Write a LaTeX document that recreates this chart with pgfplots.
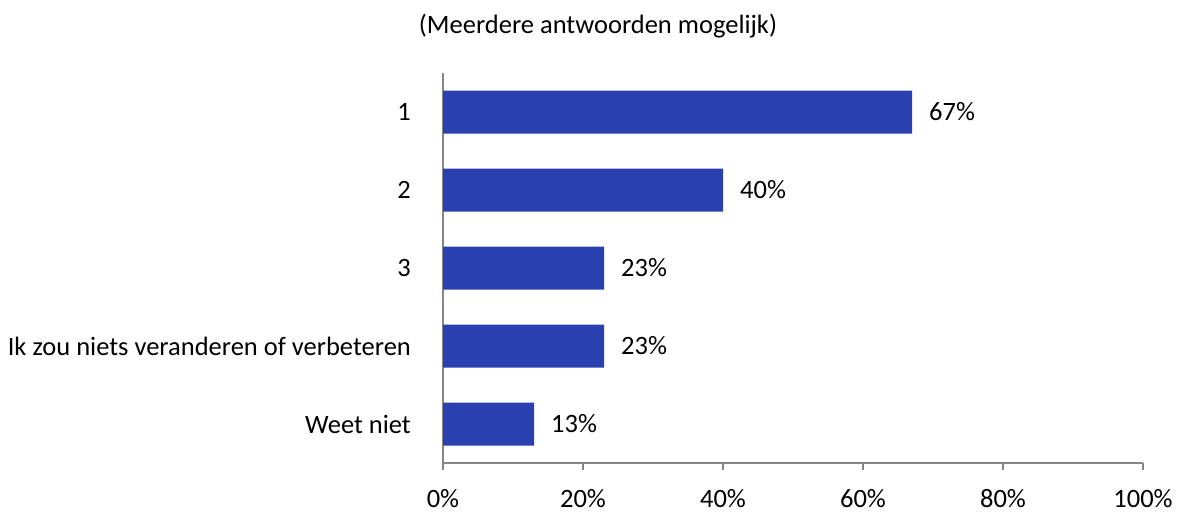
\documentclass[border=0pt]{standalone}
\usepackage{pgfplots}
\pgfplotsset{compat=1.18}
\usepackage{fontspec}
\setmainfont{Carlito}
\definecolor{barblue}{RGB}{43,64,176}
\definecolor{axgray}{RGB}{134,134,134}
\begin{document}
\fontsize{26.5bp}{30bp}\selectfont
\begin{tikzpicture}
\useasboundingbox (0,0) rectangle (1183bp,-512bp);
\node[anchor=base, inner sep=0pt] at (598bp,-33bp) {(Meerdere antwoorden mogelijk)};
\begin{axis}[
  at={(443bp,-463bp)}, anchor=south west,
  scale only axis, width=700bp, height=390bp,
  xbar, bar width=43bp,
  xmin=0, xmax=100, ymin=-0.5, ymax=4.5,
  y dir=reverse,
  axis x line*=bottom, axis y line*=left,
  axis line style={axgray, line width=1.3bp},
  xtick={0,20,40,60,80,100},
  xticklabels={0\%,20\%,40\%,60\%,80\%,100\%},
  xtick style={axgray, line width=1.3bp},
  tick align=outside, major tick length=7bp,
  xticklabel style={anchor=base, inner sep=0pt, yshift=-37bp},
  ytick={0,1,2,3,4},
  yticklabels={1,2,3,Ik zou niets veranderen of verbeteren,Weet niet},
  ytick style={draw=none},
  yticklabel style={anchor=east, inner sep=0pt, xshift=-25bp},
  nodes near coords={\pgfmathprintnumber{\pgfplotspointmeta}\%},
  nodes near coords style={anchor=west, inner sep=0pt, xshift=17bp, black},
  every node near coord/.append style={font=\fontsize{26.5bp}{30bp}\selectfont},
  tick label style={font=\fontsize{26.5bp}{30bp}\selectfont},
  /pgf/number format/assume math mode=true,
  clip=false,
]
\addplot[fill=barblue, draw=none] coordinates {(67,0) (40,1) (23,2) (23,3) (13,4)};
\end{axis}
\end{tikzpicture}
\end{document}
